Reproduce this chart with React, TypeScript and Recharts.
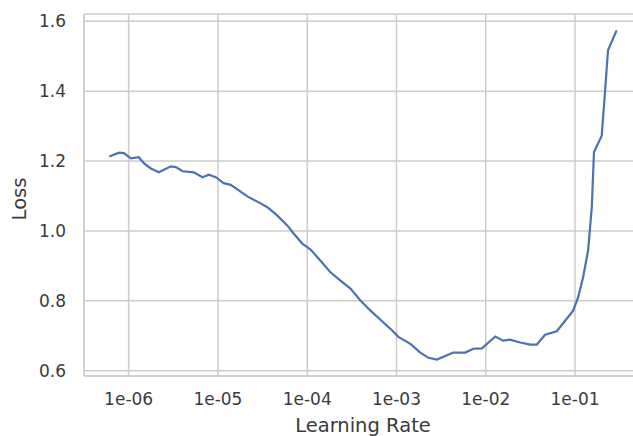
import { LineChart, Line, XAxis, YAxis, CartesianGrid } from 'recharts';

// learning-rate finder sweep: lr on a log axis vs smoothed loss
const learningRates = [
  6.07e-7, 7.8e-7, 8.86e-7, 1.06e-6, 1.3e-6, 1.48e-6, 1.77e-6, 2.18e-6, 2.97e-6, 3.38e-6,
  4.02e-6, 5.37e-6, 6.71e-6, 7.91e-6, 9.46e-6, 1.16e-5, 1.39e-5, 1.71e-5, 2.14e-5, 3.01e-5,
  3.58e-5, 4.64e-5, 5.98e-5, 7.05e-5, 8.81e-5, 1.09e-4, 1.41e-4, 1.82e-4, 2.36e-4, 3.05e-4,
  3.95e-4, 5.12e-4, 6.61e-4, 8.55e-4, 1.05e-3, 1.43e-3, 1.85e-3, 2.28e-3, 2.84e-3, 4.33e-3,
  5.89e-3, 7.24e-3, 9.06e-3, 1.28e-2, 1.57e-2, 1.87e-2, 2.43e-2, 3.14e-2, 3.73e-2, 4.62e-2,
  6.24e-2, 8.07e-2, 9.51e-2, 0.108, 0.123, 0.14, 0.154, 0.163, 0.199, 0.216, 0.234, 0.292,
];
const losses = [
  1.213, 1.224, 1.223, 1.208, 1.211, 1.194, 1.179, 1.168, 1.185, 1.183,
  1.171, 1.168, 1.154, 1.161, 1.154, 1.137, 1.132, 1.116, 1.099, 1.079,
  1.068, 1.044, 1.016, 0.993, 0.964, 0.947, 0.915, 0.882, 0.858, 0.835,
  0.801, 0.772, 0.746, 0.72, 0.697, 0.677, 0.652, 0.637, 0.632, 0.652,
  0.652, 0.663, 0.664, 0.698, 0.686, 0.689, 0.681, 0.675, 0.675, 0.703,
  0.713, 0.749, 0.772, 0.809, 0.867, 0.944, 1.068, 1.226, 1.273, 1.394, 1.517, 1.574,
];
const xTicks = [1e-6, 1e-5, 1e-4, 1e-3, 1e-2, 1e-1];
const yTicks = [0.6, 0.8, 1.0, 1.2, 1.4, 1.6];

const data = learningRates.map((lr, i) => ({ lr, loss: losses[i] }));

const FONT = '"DejaVu Sans", sans-serif';
const GRID = '#cccccc';
const TEXT = '#3a3a3a';

const fmtLr = (v: number) => {
  const exp = Math.round(Math.log10(v));
  const abs = Math.abs(exp);
  return `1e${exp < 0 ? '-' : '+'}${abs < 10 ? '0' : ''}${abs}`;
};

export default function App() {
  return (
    <div style={{ position: 'absolute', left: 0, top: 0, background: '#fff' }}>
      <LineChart width={650} height={436} data={data} margin={{ top: 14, right: 8, left: 0, bottom: 0 }}>
        <CartesianGrid stroke={GRID} strokeWidth={1.5} />
        <XAxis
          dataKey="lr"
          type="number"
          scale="log"
          domain={[Math.pow(10, -6.5), Math.pow(10, -0.25)]}
          allowDataOverflow
          ticks={xTicks}
          tickFormatter={fmtLr}
          height={60}
          tickSize={0}
          tickMargin={17}
          axisLine={{ stroke: GRID, strokeWidth: 1.5 }}
          tick={{ fill: TEXT, fontSize: 17, fontFamily: FONT }}
          label={{ value: 'Learning Rate', position: 'insideBottom', offset: 4, fill: TEXT, fontSize: 19.5, fontFamily: FONT }}
        />
        <XAxis
          xAxisId="top"
          orientation="top"
          dataKey="lr"
          type="number"
          scale="log"
          domain={[Math.pow(10, -6.5), Math.pow(10, -0.25)]}
          allowDataOverflow
          height={0}
          tick={false}
          tickLine={false}
          axisLine={{ stroke: GRID, strokeWidth: 1.5 }}
        />
        <YAxis
          type="number"
          domain={[0.585, 1.621]}
          allowDataOverflow
          ticks={yTicks}
          tickFormatter={(v: number) => v.toFixed(1)}
          width={84}
          tickSize={0}
          tickMargin={18}
          axisLine={{ stroke: GRID, strokeWidth: 1.5 }}
          tick={{ fill: TEXT, fontSize: 17, fontFamily: FONT }}
          label={{
            content: ({ viewBox }: any) => {
              const cx = viewBox.x + 19;
              const cy = viewBox.y + viewBox.height / 2 + 4;
              return (
                <text
                  x={cx}
                  y={cy}
                  transform={`rotate(-90 ${cx} ${cy})`}
                  textAnchor="middle"
                  dominantBaseline="central"
                  fill={TEXT}
                  fontSize={19.5}
                  fontFamily={FONT}
                >
                  Loss
                </text>
              );
            },
          }}
        />
        <Line
          type="linear"
          dataKey="loss"
          stroke="#4c72b0"
          strokeWidth={2.2}
          dot={false}
          isAnimationActive={false}
        />
      </LineChart>
    </div>
  );
}
